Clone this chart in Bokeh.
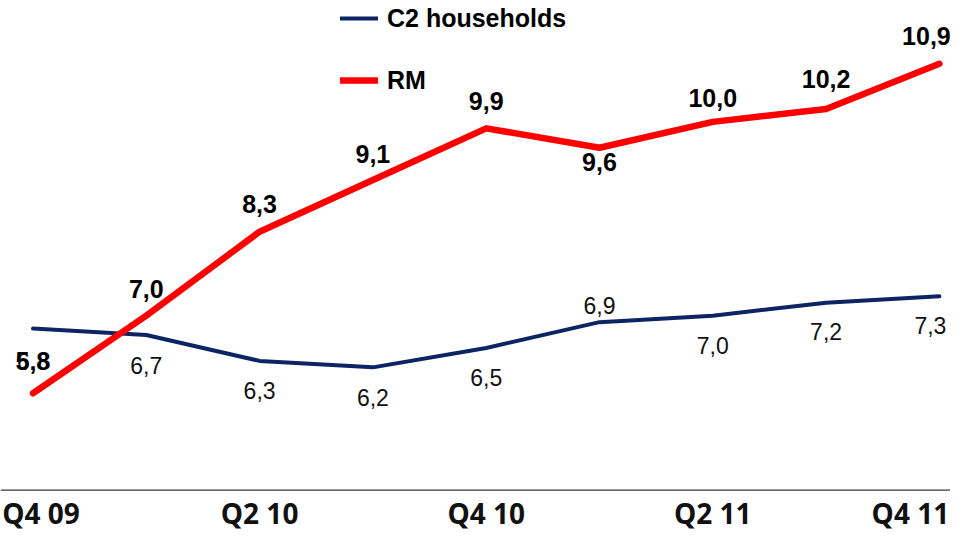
from bokeh.plotting import figure
from bokeh.models import ColumnDataSource, Range1d, Span, Legend, LegendItem
from bokeh.core.properties import value
from bokeh.embed import file_html
from bokeh.resources import INLINE

# ---- data ----
quarters = ["Q4 09", "Q1 10", "Q2 10", "Q3 10", "Q4 10", "Q1 11", "Q2 11", "Q3 11", "Q4 11"]
tick_labels = ["Q4 09", "", "Q2 10", "", "Q4 10", "", "Q2 11", "", "Q4 11"]
c2_households = [6.8, 6.7, 6.3, 6.2, 6.5, 6.9, 7.0, 7.2, 7.3]
rm = [5.8, 7.0, 8.3, 9.1, 9.9, 9.6, 10.0, 10.2, 10.9]

# ---- label placement (screen px, positive = down / right) ----
c2_dy = [33, 30, 30, 30, 30, -17, 30, 29, 29]
c2_dx = [0, 0, 0, 0, 0, 0, 0, 0, -9]
rm_dy = [-32, -27, -28, -26, -27, 14, -24, -30, -28]
rm_dx = [0, 0, 0, 0, 0, 0, 0, 0, -13]
tick_dx = [8, 0, 0, 0, -29]

def fmt(v):
    return f"{v:.1f}".replace(".", ",")

xs = list(range(len(quarters)))

W, H = 950, 538
p = figure(width=W, height=H, output_backend="svg", toolbar_location=None,
           x_range=Range1d(-0.2868, 8.098), y_range=Range1d(3.551, 11.879),
           x_axis_location=None, y_axis_location=None,
           min_border=0, min_border_left=0, min_border_right=0,
           min_border_top=0, min_border_bottom=0)
p.outline_line_color = None
p.grid.visible = False
p.background_fill_color = "white"
p.border_fill_color = "white"

AXIS_Y = 4.3
# baseline (category axis line)
p.add_layout(Span(location=AXIS_Y, dimension="width", line_color="#3a3a3a", line_width=1.4))

src = ColumnDataSource(dict(
    x=xs, c2=c2_households, rm=rm,
    c2_txt=[fmt(v) for v in c2_households],
    rm_txt=[fmt(v) for v in rm],
    c2_dy=c2_dy, c2_dx=c2_dx, rm_dy=rm_dy, rm_dx=rm_dx,
))

r_c2 = p.line("x", "c2", source=src, line_color="#0B2463", line_width=4,
              line_cap="round", line_join="round")
r_rm = p.line("x", "rm", source=src, line_color="#FF0000", line_width=6.5,
              line_cap="round", line_join="round")

p.text("x", "c2", text="c2_txt", source=src, y_offset="c2_dy", x_offset="c2_dx",
       text_align="center", text_baseline="middle",
       text_font=value("Liberation Sans"), text_font_size="23px", text_color="#111111")
p.text("x", "rm", text="rm_txt", source=src, y_offset="rm_dy", x_offset="rm_dx",
       text_align="center", text_baseline="middle",
       text_font=value("Liberation Sans"), text_font_style="bold",
       text_font_size="25px", text_color="#000000")

# category tick labels, hung below the baseline
tick_x = [x for x, t in zip(xs, tick_labels) if t]
tick_t = [t for t in tick_labels if t]
tick_src = ColumnDataSource(dict(x=tick_x, y=[AXIS_Y] * len(tick_x), t=tick_t, dx=tick_dx))
p.text("x", "y", text="t", source=tick_src, y_offset=23, x_offset="dx",
       text_align="center", text_baseline="middle",
       text_font=value("Open Sans"), text_font_style="bold", text_font_size="28px",
       text_color="#111111")

legend = Legend(items=[LegendItem(label="C2 households", renderers=[r_c2]),
                       LegendItem(label="RM", renderers=[r_rm])],
                location=(340, 441), orientation="vertical",
                glyph_width=38, glyph_height=34, label_height=34, spacing=28,
                label_standoff=9, padding=0, margin=0,
                label_text_font="Liberation Sans", label_text_font_style="bold",
                label_text_font_size="25px", label_text_color="#000000",
                border_line_color=None, background_fill_alpha=0)
p.add_layout(legend)

open("out.html", "w").write(file_html(p, INLINE))
